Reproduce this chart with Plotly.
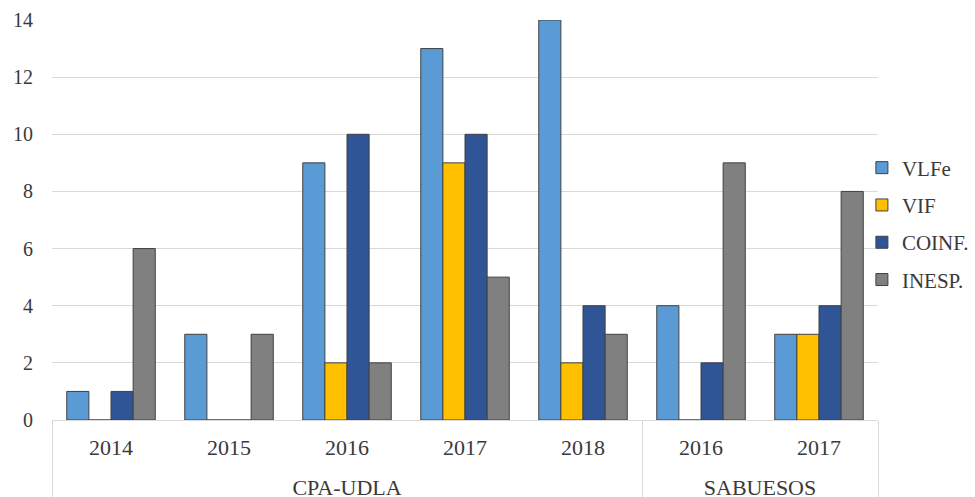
import plotly.graph_objects as go

groups = ["CPA-UDLA"] * 5 + ["SABUESOS"] * 2
years = ["2014", "2015", "2016", "2017", "2018", "2016", "2017"]

series_names = ["VLFe", "VIF", "COINF.", "INESP."]
vlfe = [1, 3, 9, 13, 14, 4, 3]
vif = [0, 0, 2, 9, 2, 0, 3]
coinf = [1, 0, 10, 10, 4, 2, 4]
inesp = [6, 3, 2, 5, 3, 9, 8]
colors = ["#5B9BD5", "#FFC000", "#2F5597", "#808080"]

FONT = "Liberation Serif"
TXT = "#3a3a3a"

year_labels = ["<span style='font-size:22px'>" + y + "</span><br> " for y in years]
group_labels = ["<span style='font-size:22px'>" + g + "</span>" for g in groups]

fig = go.Figure()
for i, (name, vals) in enumerate(zip(series_names, [vlfe, vif, coinf, inesp])):
    fig.add_trace(go.Bar(
        x=[group_labels, year_labels], y=vals, name=name,
        legendgroup=name,
        marker=dict(color=colors[i], line=dict(color="#404040", width=1)),
    ))

fig.update_layout(
    width=975, height=497,
    margin=dict(l=52, r=97, t=20, b=77, autoexpand=False),
    paper_bgcolor="white", plot_bgcolor="white",
    barmode="group", bargap=0.25, bargroupgap=0,
    font=dict(family=FONT, size=22, color=TXT),
    showlegend=True,
    legend=dict(xref="container", x=0.884, xanchor="left", y=0.49, yanchor="middle",
                tracegroupgap=7, font=dict(family=FONT, size=21, color=TXT),
                itemwidth=30, bgcolor="rgba(0,0,0,0)"),
    xaxis=dict(type="multicategory", showline=True, linecolor="#D9D9D9", linewidth=1,
               showdividers=True, dividercolor="#D9D9D9", dividerwidth=1,
               tickfont=dict(family=FONT, size=19, color=TXT), ticks="",
               ticklabelstandoff=11),
    yaxis=dict(range=[0, 14], dtick=2, showgrid=True, gridcolor="#D9D9D9", gridwidth=1,
               zeroline=False, showline=False, ticks="",
               tickfont=dict(family=FONT, size=20, color=TXT), ticklabelstandoff=18),
)

fig.write_html("out.html")
